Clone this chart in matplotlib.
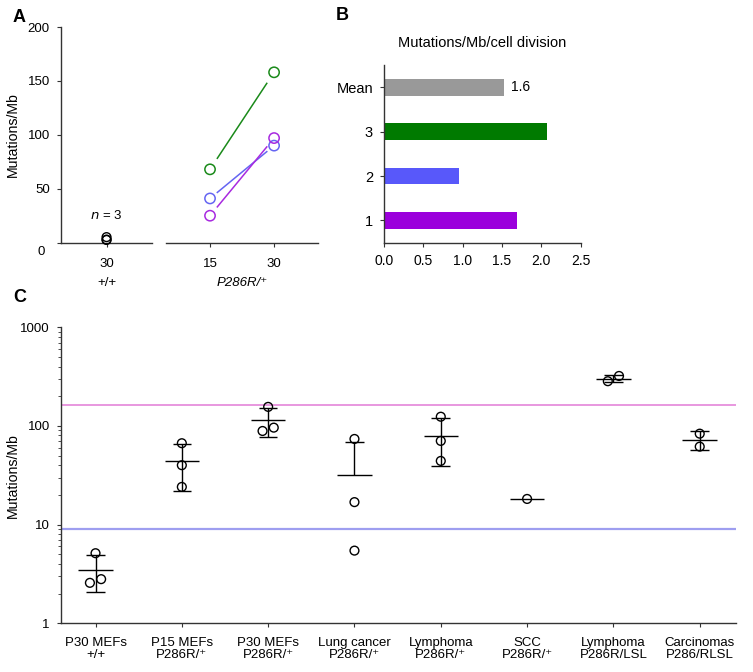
import matplotlib
matplotlib.use("Agg")
import matplotlib.pyplot as plt
import numpy as np
from matplotlib.ticker import LogLocator, NullFormatter, FixedLocator, FixedFormatter

# ---- data ----
# panel A: mutations/Mb by passage
a_wt_passage = 30
a_wt_values = [5.13, 2.57, 2.8]
a_passages = [15, 30]
a_green = [68, 158]
a_blue = [41, 90]
a_purple = [25, 97]

# panel B: mutations/Mb/cell division
b_labels = ["1", "2", "3", "Mean"]
b_values = [1.69, 0.95, 2.07, 1.53]
b_mean_text = "1.6"

# panel C: mutations/Mb per sample group
c_labels = ["P30 MEFs\n+/+", "P15 MEFs\nP286R/\u207a", "P30 MEFs\nP286R/\u207a",
            "Lung cancer\nP286R/\u207a", "Lymphoma\nP286R/\u207a", "SCC\nP286R/\u207a",
            "Lymphoma\nP286R/LSL", "Carcinomas\nP286/RLSL"]
c_values = [[5.13, 2.57, 2.8], [66.8, 40.0, 24.1], [156, 88.9, 96.1],
            [73.8, 16.9, 5.45], [124, 70.5, 44.2], [18.2], [284, 321], [83.5, 61.7]]
c_ref_high = 162
c_ref_low = 9.1

# jitter of the circles inside each group (layout only)
c_jitter = [[0, -0.065, 0.065], [0, 0, 0], [0, -0.065, 0.065], [0, 0, 0],
            [0, 0, 0], [0], [-0.065, 0.065], [0, 0]]

green = "#1a8a1a"
blue = "#6565f2"
purple = "#a82ae0"
axis_col = "#333333"

plt.rcParams['font.family'] = ['Liberation Sans', 'DejaVu Sans']
plt.rcParams['font.size'] = 9.5
plt.rcParams['axes.linewidth'] = 1.0
plt.rcParams['axes.edgecolor'] = axis_col
plt.rcParams['xtick.color'] = axis_col
plt.rcParams['ytick.color'] = axis_col
plt.rcParams['xtick.labelcolor'] = 'black'
plt.rcParams['ytick.labelcolor'] = 'black'
plt.rcParams['xtick.major.size'] = 3
plt.rcParams['ytick.major.size'] = 3
plt.rcParams['xtick.major.pad'] = 5
plt.rcParams['ytick.major.pad'] = 5

fig = plt.figure(figsize=(7.53, 6.72), dpi=100)

# ---------------- panel A ----------------
axA1 = fig.add_axes([0.081, 0.6389, 0.121, 0.3209])
axA2 = fig.add_axes([0.2205, 0.6389, 0.2019, 0.3209])
for ax in (axA1, axA2):
    ax.set_ylim(0, 200)
    ax.spines['top'].set_visible(False)
    ax.spines['right'].set_visible(False)
    ax.tick_params(axis='x', pad=8)

axA1.scatter([a_wt_passage] * len(a_wt_values), a_wt_values, s=40,
             facecolors='none', edgecolors='black', linewidths=1.0, clip_on=False, zorder=3)
axA1.set_xlim(a_wt_passage - 10.7, a_wt_passage + 10.7)
axA1.set_xticks([a_wt_passage])
axA1.set_yticks([0, 50, 100, 150, 200])
axA1.set_yticklabels(["", "50", "100", "150", "200"])
axA1.annotate("0", xy=(0, 0), xycoords=('axes fraction', 'data'), xytext=(-11.5, -7),
              textcoords='offset points', ha='right', va='center')
axA1.set_xlabel("+/+", labelpad=5)
axA1.set_ylabel("Mutations/Mb", fontsize=10.2)
axA1.yaxis.set_label_coords(-0.45, 0.5)
axA1.text(a_wt_passage, 25, "$n$ = 3", ha='center', va='center')

axA2.spines['left'].set_visible(False)
axA2.set_yticks([])
axA2.set_xlim(4.7, 40.3)
axA2.set_xticks(a_passages)
axA2.set_xlabel("P286R/\u207a", style='italic', labelpad=5)
shrink = 0.114
for vals, col in [(a_green, green), (a_blue, blue), (a_purple, purple)]:
    x0, x1 = a_passages
    y0, y1 = vals
    axA2.plot([x0 + shrink * (x1 - x0), x1 - shrink * (x1 - x0)],
              [y0 + shrink * (y1 - y0), y1 - shrink * (y1 - y0)], color=col, lw=1.1)
    axA2.scatter(a_passages, vals, s=55, facecolors='none', edgecolors=col, linewidths=1.1, zorder=3)

# ---------------- panel B ----------------
axB = fig.add_axes([0.51, 0.6389, 0.2612, 0.2644])
b_colors = ["#9b00dc", "#5858fa", "#007a00", "#999999"]
axB.barh(range(len(b_labels)), b_values, height=0.38, color=b_colors)
axB.set_yticks(range(len(b_labels)))
axB.set_yticklabels(b_labels, fontsize=10.5)
axB.set_ylim(-0.5, 3.5)
axB.set_xlim(0, 2.5)
axB.set_xticks(np.arange(0, 2.51, 0.5))
axB.set_xticklabels(["%.1f" % v for v in np.arange(0, 2.51, 0.5)], fontsize=10)
axB.spines['top'].set_visible(False)
axB.spines['right'].set_visible(False)
axB.set_title("Mutations/Mb/cell division", pad=13, fontsize=10.5)
axB.text(b_values[3] + 0.09, 3, b_mean_text, va='center', ha='left', fontsize=10)

# ---------------- panel C ----------------
axC = fig.add_axes([0.081, 0.0725, 0.8964, 0.4405])
axC.set_yscale('log')
axC.set_ylim(1, 1000)
axC.set_xlim(0.6, 8.42)
axC.axhline(c_ref_high, color='#e27ad6', lw=1.1, zorder=1)
axC.axhline(c_ref_low, color='#9e9ef0', lw=1.6, zorder=1)

for i, vals in enumerate(c_values):
    x = i + 1
    vals = np.array(vals)
    xs = x + np.array(c_jitter[i])
    axC.scatter(xs, vals, s=40, facecolors='none', edgecolors='black', linewidths=1.0, zorder=3)
    m = vals.mean()
    axC.hlines(m, x - 0.2, x + 0.2, color='black', lw=1.0, zorder=2)
    if len(vals) > 1:
        sd = vals.std(ddof=1)
        top = m + sd
        bot = m - sd
        axC.hlines(top, x - 0.108, x + 0.108, color='black', lw=1.0, zorder=2)
        if bot > 0:
            axC.hlines(bot, x - 0.108, x + 0.108, color='black', lw=1.0, zorder=2)
            axC.vlines(x, bot, top, color='black', lw=1.0, zorder=2)
        else:
            axC.vlines(x, m, top, color='black', lw=1.0, zorder=2)

axC.yaxis.set_major_locator(FixedLocator([1, 10, 100, 1000]))
axC.yaxis.set_major_formatter(FixedFormatter(["1", "10", "100", "1000"]))
axC.yaxis.set_minor_locator(LogLocator(base=10, subs=np.arange(2, 10)))
axC.yaxis.set_minor_formatter(NullFormatter())
axC.tick_params(axis='y', which='minor', length=2, color=axis_col)
axC.tick_params(axis='x', pad=7)
axC.set_xticks(range(1, len(c_labels) + 1))
axC.set_xticklabels(c_labels, linespacing=0.95)
axC.spines['top'].set_visible(False)
axC.spines['right'].set_visible(False)
axC.set_ylabel("Mutations/Mb", fontsize=10.2)
axC.yaxis.set_label_coords(-0.0607, 0.5)

# panel letters
fig.text(13 / 753, 1 - 17 / 672, "A", weight='bold', fontsize=13, va='center', ha='left')
fig.text(336 / 753, 1 - 16 / 672, "B", weight='bold', fontsize=13, va='center', ha='left')
fig.text(13 / 753, 1 - 297 / 672, "C", weight='bold', fontsize=13, va='center', ha='left')

plt.savefig('out.png', dpi=100)
